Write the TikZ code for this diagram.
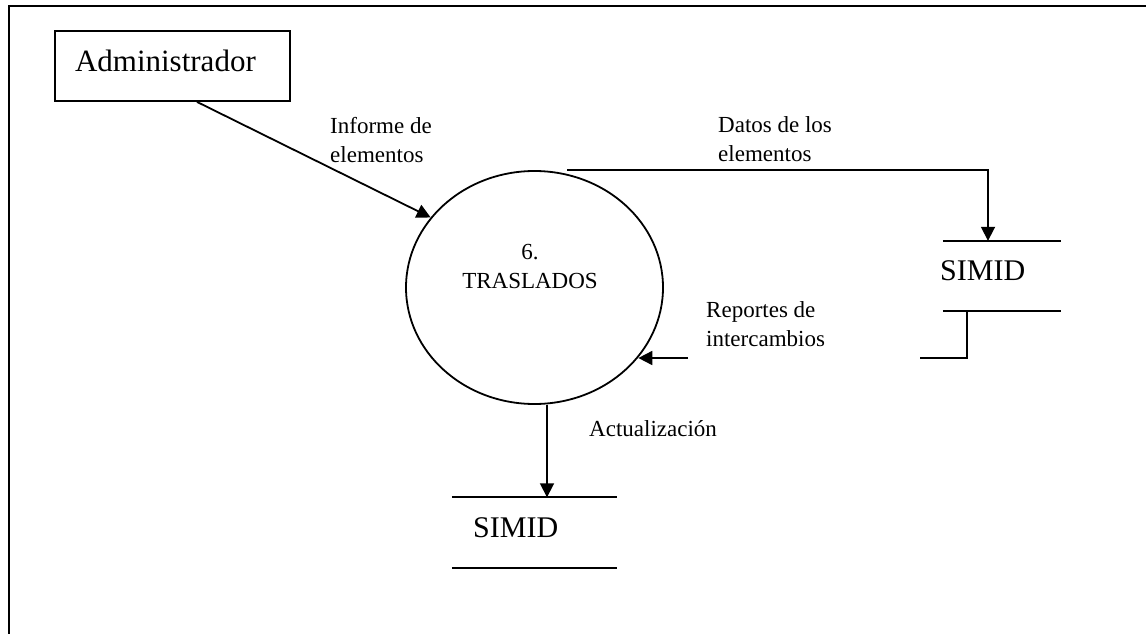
\documentclass[tikz,border=0pt]{standalone}
\usepackage{fontspec}
\setmainfont{Liberation Serif}
\usetikzlibrary{arrows.meta,shapes.geometric}
\tikzset{
  ln/.style={line width=1.8pt},
  arr/.style={ln,-{Triangle[length=14pt,width=14pt]}},
  lbl/.style={font=\fontsize{23}{29}\selectfont, align=left, inner sep=0pt, anchor=base west},
  storebox/.style={minimum width=#1, minimum height=70pt, inner sep=0pt},
  storetext/.style={font=\fontsize{30}{36}\selectfont, inner sep=0pt, anchor=base west},
  entity/.style={draw, ln, minimum width=235pt, minimum height=70pt, inner xsep=0pt,
    text width=195pt, align=left, text height=21pt, text depth=9pt,
    font=\fontsize{31}{36}\selectfont},
  process/.style={draw, ln, ellipse, minimum width=257pt, minimum height=233pt, inner sep=0pt}
}
\begin{document}
\begin{tikzpicture}[x=1pt,y=-1pt]
\useasboundingbox (0,0) rectangle (1146,634);
% frame
\draw[line width=2pt] (9,634) -- (9,6) -- (1146,6);
% nodes
\node[entity] (adm) at (172.5,66) {Administrador};
\node[process] (p) at (534.5,287.5) {};
\node[lbl, align=center, anchor=base] (ptxt) at (530,288) {6.\\TRASLADOS};
\node[storebox=118pt] (s1) at (1002,276) {};
\node[storebox=165pt] (s2) at (534.5,532.5) {};
\draw[ln] (s1.north west) -- (s1.north east);
\draw[ln] (s1.south west) -- (s1.south east);
\draw[ln] (s2.north west) -- (s2.north east);
\draw[ln] (s2.south west) -- (s2.south east);
\node[storetext] (s1t) at (940,280) {SIMID};
\node[storetext] (s2t) at (473,537) {SIMID};
% flows
\draw[arr] ([xshift=24.5pt]adm.south) -- (p.146);
\draw[arr] ([xshift=32.5pt]p.north) -| ([xshift=-14pt]s1.north);
\coordinate (rA) at (920,358);
\coordinate (rB) at (688,358);
\draw[ln] ([xshift=-35pt]s1.south) |- (rA);
\draw[arr] (rB) -- (rB -| p.-34);
\draw[arr] ([xshift=12.5pt]p.south) -- ([xshift=12.5pt]p.south |- s2.north);
% labels
\node[lbl] (l1) at (330,162) {Informe de\\elementos};
\node[lbl] (l2) at (718,161) {Datos de los\\elementos};
\node[lbl] (l3) at (706,346) {Reportes de\\intercambios};
\node[lbl] (l4) at (589,436) {Actualización};
\end{tikzpicture}
\end{document}
